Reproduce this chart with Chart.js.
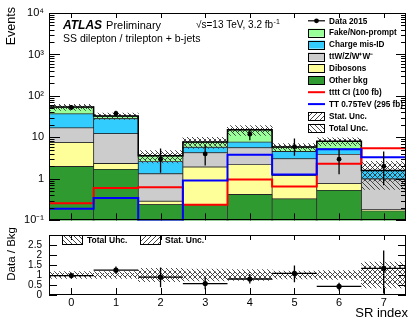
<!DOCTYPE html>
<html>
<head>
<meta charset="utf-8">
<script src="https://cdn.jsdelivr.net/npm/chart.js@4.4.1/dist/chart.umd.min.js"></script>
<style>
html, body { margin: 0; padding: 0; background: #fff; }
#wrap { position: relative; width: 410px; height: 320px; overflow: hidden; }
#main { position: absolute; left: 0; top: 0; }
#ratio { position: absolute; left: 0; top: 222px; }
</style>
</head>
<body>
<div id="wrap">
  <canvas id="main" width="410" height="232"></canvas>
  <canvas id="ratio" width="410" height="98"></canvas>
</div>
<script>
// SR bins
const bins = [0, 1, 2, 3, 4, 5, 6, 7];

// background stack, bottom to top
const otherBkg    = [2.0, 1.7, 0.24, 0.24, 0.42, 0.33, 0.53, 0.17];
const dibosons    = [5.5, 0.66, 0.05, 1.69, 1.81, 0.87, 0.24, 0.01];
const ttV         = [9.5, 10.0, 1.04, 2.35, 3.42, 1.87, 3.1, 0.82];
const chargeMisId = [20, 16, 1.3, 1.5, 2.05, 1.53, 1.4, 0.6];
const fakes       = [17, 4.6, 1.0, 2.0, 7.6, 1.3, 2.8, 0];

// signals
const ttttCI = [0.26, 0.6, 0.63, 0.24, 0.97, 0.66, 2.32, 5.5];
const TT750  = [0.19, 0.345, 0.102, 0.92, 3.83, 1.28, 5.2, 3.35];

// data
const data2015  = [53, 38, 3, 4, 12, 6, 3, 2];
const dataErrUp = [7.3, 6.2, 2.4, 2.6, 4.2, 3.4, 2.2, 2.6];
const dataErrDn = [7.3, 6.2, 1.6, 1.9, 3.4, 2.4, 1.7, 1.3];

// relative uncertainties on the background
const totUnc  = [0.17, 0.17, 0.33, 0.3, 0.27, 0.2, 0.22, 0.65];
const statUnc = [0.08, 0.08, 0.2, 0.16, 0.13, 0.1, 0.12, 0.45];

// data / bkg
const ratio      = [0.97, 1.24, 0.89, 0.57, 0.8, 1.08, 0.43, 1.33];
const ratioErrUp = [0.14, 0.18, 0.48, 0.3, 0.25, 0.4, 0.18, 0.89];
const ratioErrDn = [0.14, 0.18, 0.5, 0.28, 0.22, 0.44, 0.21, 1.26];

// axis ticks
const yTicks = [0.1, 1, 10, 100, 1000, 10000];
const yTickLabels = ['10\u207B\u00B9', '1', '10', '10\u00B2', '10\u00B3', '10\u2074'];
const ratioTicks = [0, 0.5, 1, 1.5, 2, 2.5];
const ratioTickLabels = ['0', '0.5', '1', '1.5', '2', '2.5'];

const FONT = '"Liberation Sans", Arial, Helvetica, sans-serif';
const stackColors = ['#2f9a2f', '#ffff99', '#cccccc', '#33ccff', '#99ff99'];
const RED = '#ff0000';
const BLUE = '#0000ff';

function hatch(ctx, forward) {
    const s = 5;
    const c = document.createElement('canvas');
    c.width = s; c.height = s;
    const g = c.getContext('2d');
    g.strokeStyle = '#333';
    g.lineWidth = 0.9;
    g.beginPath();
    if (forward) {
        g.moveTo(-1, s + 1); g.lineTo(s + 1, -1);
        g.moveTo(-1, 1); g.lineTo(1, -1);
        g.moveTo(s - 1, s + 1); g.lineTo(s + 1, s - 1);
    } else {
        g.moveTo(-1, -1); g.lineTo(s + 1, s + 1);
        g.moveTo(s - 1, -1); g.lineTo(s + 1, 1);
        g.moveTo(-1, s - 1); g.lineTo(1, s + 1);
    }
    g.stroke();
    return ctx.createPattern(c, 'repeat');
}

function stepPoints(vals) {
    return vals.flatMap((v, i) => [{ x: bins[i] - 0.5, y: v }, { x: bins[i] + 0.5, y: v }]);
}

// inner ticks + frame, ROOT style
const frameTicks = {
    id: 'frameTicks',
    afterDraw(chart, args, o) {
        const { ctx, chartArea: a, scales: { x, y } } = chart;
        ctx.save();
        ctx.strokeStyle = '#000';
        ctx.lineWidth = 1;
        ctx.beginPath();
        o.xMajor.forEach(v => {
            const px = Math.round(x.getPixelForValue(v)) + 0.5;
            ctx.moveTo(px, a.bottom); ctx.lineTo(px, a.bottom - o.xb);
            ctx.moveTo(px, a.top); ctx.lineTo(px, a.top + o.xt);
        });
        const yTick = (v, l, r) => {
            const py = Math.round(y.getPixelForValue(v)) + 0.5;
            ctx.moveTo(a.left, py); ctx.lineTo(a.left + l, py);
            ctx.moveTo(a.right, py); ctx.lineTo(a.right - r, py);
        };
        o.yMajor.forEach(v => yTick(v, o.yl, o.yr));
        (o.yMinor || []).forEach(v => yTick(v, o.ml, o.mr));
        ctx.stroke();
        ctx.strokeRect(Math.round(a.left) + 0.5, Math.round(a.top) + 0.5,
                       Math.round(a.width) - 1, Math.round(a.height) - 1);
        ctx.restore();
    }
};

const errorBars = {
    id: 'errorBars',
    afterDatasetsDraw(chart, args, o) {
        const { ctx, chartArea: a, scales: { x, y } } = chart;
        ctx.save();
        ctx.beginPath();
        ctx.rect(a.left, a.top, a.width, a.height);
        ctx.clip();
        ctx.strokeStyle = '#000';
        ctx.lineWidth = 1.3;
        ctx.beginPath();
        o.values.forEach((v, i) => {
            const px = x.getPixelForValue(bins[i]);
            ctx.moveTo(px, y.getPixelForValue(v + o.up[i]));
            ctx.lineTo(px, y.getPixelForValue(v - o.dn[i]));
            if (o.halfWidth) {
                const py = y.getPixelForValue(v);
                ctx.moveTo(x.getPixelForValue(bins[i] - o.halfWidth), py);
                ctx.lineTo(x.getPixelForValue(bins[i] + o.halfWidth), py);
            }
        });
        ctx.stroke();
        ctx.restore();
    }
};

// stack boundaries
const components = [otherBkg, dibosons, ttV, chargeMisId, fakes];
const cum = [];
let run = bins.map(() => 0);
components.forEach(c => {
    const lo = run;
    run = run.map((v, i) => v + c[i]);
    cum.push({ lo, hi: run });
});
const totalBkg = run;

// ---------- main panel ----------
const mainCtx = document.getElementById('main').getContext('2d');
const statPat = hatch(mainCtx, true);
const totPat = hatch(mainCtx, false);

const legendItems = [
    { label: 'Data 2015', kind: 'data' },
    { label: 'Fake/Non-prompt', kind: 'box', fill: stackColors[4] },
    { label: 'Charge mis-ID', kind: 'box', fill: stackColors[3] },
    { label: 'ttW/Z/W\u207AW\u207B', kind: 'box', fill: stackColors[2] },
    { label: 'Dibosons', kind: 'box', fill: stackColors[1] },
    { label: 'Other bkg', kind: 'box', fill: stackColors[0] },
    { label: 'tttt CI (100 fb)', kind: 'line', color: RED },
    { label: 'TT 0.75TeV (295 fb)', kind: 'line', color: BLUE },
    { label: 'Stat. Unc.', kind: 'box', fill: statPat },
    { label: 'Total Unc.', kind: 'box', fill: totPat }
];

const mainText = {
    id: 'mainText',
    afterDraw(chart) {
        const ctx = chart.ctx;
        ctx.save();
        ctx.fillStyle = '#000';
        ctx.textBaseline = 'alphabetic';
        ctx.font = 'bold italic 12px ' + FONT;
        ctx.fillText('ATLAS', 63, 29);
        const w = ctx.measureText('ATLAS').width;
        ctx.font = '11px ' + FONT;
        ctx.fillText('Preliminary', 63 + w + 4, 29);
        ctx.font = '10px ' + FONT;
        const s = '\u221As=13 TeV, 3.2 fb';
        ctx.fillText(s, 196, 28);
        const ws = ctx.measureText(s).width;
        ctx.font = '7px ' + FONT;
        ctx.fillText('-1', 196 + ws + 0.5, 23.5);
        ctx.font = '10.5px ' + FONT;
        ctx.fillText('SS dilepton / trilepton + b-jets', 63, 42);

        // y title
        ctx.save();
        ctx.translate(15, 7);
        ctx.rotate(-Math.PI / 2);
        ctx.textAlign = 'right';
        ctx.font = '12.5px ' + FONT;
        ctx.fillText('Events', 0, 0);
        ctx.restore();

        // legend
        ctx.font = 'bold 8.2px ' + FONT;
        ctx.textBaseline = 'middle';
        legendItems.forEach((it, i) => {
            const yc = 20.8 + i * 11.9;
            const x0 = 308;
            if (it.kind === 'data') {
                ctx.strokeStyle = '#000';
                ctx.lineWidth = 1.2;
                ctx.beginPath();
                ctx.moveTo(x0, yc); ctx.lineTo(x0 + 17, yc);
                ctx.stroke();
                ctx.beginPath();
                ctx.arc(x0 + 8.5, yc, 2.4, 0, Math.PI * 2);
                ctx.fillStyle = '#000';
                ctx.fill();
            } else if (it.kind === 'line') {
                ctx.strokeStyle = it.color;
                ctx.lineWidth = 2;
                ctx.beginPath();
                ctx.moveTo(x0, yc); ctx.lineTo(x0 + 17, yc);
                ctx.stroke();
            } else {
                ctx.fillStyle = it.fill;
                ctx.fillRect(x0, yc - 4, 17, 8);
                ctx.strokeStyle = '#000';
                ctx.lineWidth = 1;
                ctx.strokeRect(x0 + 0.5, Math.round(yc - 4) + 0.5, 16, 8);
            }
            ctx.fillStyle = '#000';
            ctx.fillText(it.label, 329, yc + 0.5);
        });
        ctx.restore();
    }
};

const yMinor = [];
[0.1, 1, 10, 100, 1000].forEach(d => {
    for (let m = 2; m <= 9; m++) yMinor.push(m * d);
});

const stackSets = components.map((c, k) => ({
    type: 'bar',
    order: 10,
    data: bins.map((b, i) => ({ x: b, y: [k === 0 ? 0.001 : cum[k].lo[i], cum[k].hi[i]] })),
    backgroundColor: stackColors[k],
    borderColor: 'rgba(0,0,0,0.75)',
    borderWidth: 0.8,
    borderSkipped: false
}));

new Chart(mainCtx, {
    type: 'bar',
    data: {
        datasets: [
            {
                type: 'line', order: 0,
                data: bins.map((b, i) => ({ x: b, y: data2015[i] })),
                showLine: false, pointRadius: 2.4,
                pointBackgroundColor: '#000', pointBorderWidth: 0
            },
            {
                type: 'line', order: 1, data: stepPoints(TT750),
                borderColor: BLUE, borderWidth: 2, pointRadius: 0, fill: false
            },
            {
                type: 'line', order: 1, data: stepPoints(ttttCI),
                borderColor: RED, borderWidth: 2, pointRadius: 0, fill: false
            },
            {
                type: 'line', order: 2, data: stepPoints(totalBkg),
                borderColor: '#000', borderWidth: 1.5, pointRadius: 0, fill: false
            },
            {
                type: 'bar', order: 3,
                data: bins.map((b, i) => ({ x: b, y: [totalBkg[i] * (1 - statUnc[i]), totalBkg[i] * (1 + statUnc[i])] })),
                backgroundColor: statPat, borderWidth: 0
            },
            {
                type: 'bar', order: 4,
                data: bins.map((b, i) => ({ x: b, y: [totalBkg[i] * (1 - totUnc[i]), totalBkg[i] * (1 + totUnc[i])] })),
                backgroundColor: totPat, borderWidth: 0
            },
            ...stackSets
        ]
    },
    options: {
        responsive: false,
        animation: false,
        events: [],
        layout: { padding: { top: 13, right: 1, bottom: 11.5, left: 0 } },
        datasets: { bar: { grouped: false, barPercentage: 1, categoryPercentage: 1 } },
        plugins: {
            legend: { display: false },
            tooltip: { enabled: false },
            frameTicks: { xMajor: bins, xb: 7, xt: 5, yMajor: yTicks, yl: 11, yr: 10, yMinor: yMinor, ml: 5.5, mr: 5 },
            errorBars: { values: data2015, up: dataErrUp, dn: dataErrDn }
        },
        scales: {
            x: {
                type: 'linear', min: -0.5, max: 7.5, offset: false, display: false
            },
            y: {
                type: 'logarithmic', min: 0.1, max: 10000,
                afterBuildTicks: s => { s.ticks = yTicks.map(v => ({ value: v })); },
                afterFit: s => { s.width = 49; },
                grid: { display: false, drawTicks: false },
                border: { display: false },
                ticks: {
                    callback: (v, i) => yTickLabels[i],
                    font: { family: FONT, size: 11 },
                    color: '#000',
                    padding: 5,
                    autoSkip: false
                }
            }
        }
    },
    plugins: [errorBars, frameTicks, mainText]
});

// ---------- ratio panel ----------
const ratioCtx = document.getElementById('ratio').getContext('2d');
const statPatR = hatch(ratioCtx, true);
const totPatR = hatch(ratioCtx, false);

const ratioText = {
    id: 'ratioText',
    afterDraw(chart) {
        const ctx = chart.ctx;
        ctx.save();
        ctx.fillStyle = '#000';
        ctx.save();
        ctx.translate(15, 5);
        ctx.rotate(-Math.PI / 2);
        ctx.textAlign = 'right';
        ctx.font = '11.5px ' + FONT;
        ctx.fillText('Data / Bkg', 0, 0);
        ctx.restore();

        ctx.font = '13px ' + FONT;
        ctx.textAlign = 'right';
        ctx.fillText('SR index', 408, 95);

        ctx.textAlign = 'left';
        ctx.textBaseline = 'middle';
        ctx.font = 'bold 8.5px ' + FONT;
        [[62, totPatR, 'Total Unc.'], [140, statPatR, 'Stat. Unc.']].forEach(([x0, pat, label]) => {
            ctx.fillStyle = pat;
            ctx.fillRect(x0, 13, 21, 10);
            ctx.strokeStyle = '#000';
            ctx.lineWidth = 1;
            ctx.strokeRect(x0 + 0.5, 13.5, 20, 9);
            ctx.fillStyle = '#000';
            ctx.fillText(label, x0 + 25, 18.5);
        });
        ctx.restore();
    }
};

new Chart(ratioCtx, {
    type: 'bar',
    data: {
        datasets: [
            {
                type: 'line', order: 0,
                data: bins.map((b, i) => ({ x: b, y: ratio[i] })),
                showLine: false, pointRadius: 2.6,
                pointBackgroundColor: '#000', pointBorderWidth: 0
            },
            {
                type: 'bar', order: 1,
                data: bins.map((b, i) => ({ x: b, y: [1 - statUnc[i], 1 + statUnc[i]] })),
                backgroundColor: statPatR, borderWidth: 0
            },
            {
                type: 'bar', order: 2,
                data: bins.map((b, i) => ({ x: b, y: [1 - totUnc[i], 1 + totUnc[i]] })),
                backgroundColor: totPatR, borderWidth: 0
            }
        ]
    },
    options: {
        responsive: false,
        animation: false,
        events: [],
        layout: { padding: { top: 4, right: 1, bottom: 0, left: 0 } },
        datasets: { bar: { grouped: false, barPercentage: 1, categoryPercentage: 1 } },
        plugins: {
            legend: { display: false },
            tooltip: { enabled: false },
            frameTicks: { xMajor: bins, xb: 7, xt: 5, yMajor: ratioTicks, yl: 8, yr: 8 },
            errorBars: { values: ratio, up: ratioErrUp, dn: ratioErrDn, halfWidth: 0.5 }
        },
        scales: {
            x: {
                type: 'linear', min: -0.5, max: 7.5, offset: false,
                afterBuildTicks: s => { s.ticks = bins.map(v => ({ value: v })); },
                afterFit: s => { s.height = 25; },
                grid: { display: false, drawTicks: false },
                border: { display: false },
                ticks: {
                    font: { family: FONT, size: 11 }, color: '#000',
                    padding: 1, maxRotation: 0, autoSkip: false
                }
            },
            y: {
                type: 'linear', min: 0, max: 3,
                afterBuildTicks: s => { s.ticks = ratioTicks.map(v => ({ value: v })); },
                afterFit: s => { s.width = 49; },
                grid: { display: false, drawTicks: false },
                border: { display: false },
                ticks: {
                    callback: (v, i) => ratioTickLabels[i],
                    font: { family: FONT, size: 10 }, color: '#000',
                    padding: 7, autoSkip: false
                }
            }
        }
    },
    plugins: [errorBars, frameTicks, ratioText]
});
</script>
</body>
</html>
